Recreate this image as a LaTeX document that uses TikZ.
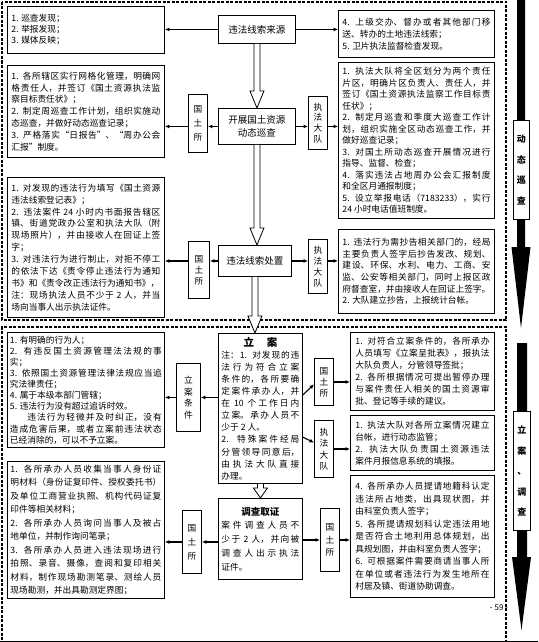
\documentclass[tikz,border=0pt]{standalone}
\usepackage{fontspec}
\setmainfont{Noto Sans CJK SC}
\XeTeXlinebreaklocale "zh"
\XeTeXlinebreakskip=0pt plus 1pt minus 0.3pt
\usetikzlibrary{arrows.meta,calc}
\newcommand\hollowarr[3]{%
 \draw[fill=white,line width=0.8pt] let \p1=(#1), \p2=(#2) in
 (\x1-3pt,\y1) -- (\x1-3pt,\y2+#3) -- (\x1-7pt,\y2+#3) -- (\x1,\y2) -- (\x1+7pt,\y2+#3) -- (\x1+3pt,\y2+#3) -- (\x1+3pt,\y1);}
\begin{document}
\begin{tikzpicture}[x=1pt,y=-1pt,
 box/.style={draw, line width=0.9pt, anchor=north west, align=justify, inner xsep=4pt, inner ysep=1pt},
 tbox/.style={draw, line width=0.9pt, anchor=north west, align=center, inner sep=1pt, font=\fontsize{9.5}{13}\selectfont},
 vbox/.style={draw, line width=0.9pt, anchor=north west, align=center, inner sep=0pt, font=\fontsize{8.7}{12.5}\selectfont},
 conn/.style={line width=1.1pt, -{Latex[length=4.5pt,width=4pt]}},
 frame/.style={line width=1.3pt, dash pattern=on 3pt off 1.5pt},
 lbl/.style={draw, fill=white, line width=0.9pt, anchor=north west, inner sep=0pt, align=center}]
\useasboundingbox (0,0) rectangle (538,642);
\node[font=\fontsize{8}{8}\selectfont] (pg) at (499,608) {- 59 -};
% frames
\draw[frame] (2,2) rectangle (506,320);
\draw[frame] (2,640) -- (2,327) -- (506,327) -- (506,640);
\draw[line width=0.9pt] (0,641) -- (538,641);
% ---- row 1
\node[box, text width=149pt, minimum height=47pt, font=\fontsize{8.7}{11}\selectfont] (a1) at (7,6) {%
1. 巡查发现；\\
2. 举报发现；\\
3. 媒体反映；};
\node[tbox, minimum width=77pt, minimum height=28pt] (src) at (218,15) {违法线索来源};
\node[box, text width=148pt, minimum height=47pt, font=\fontsize{8.7}{12}\selectfont] (b1) at (338,10) {%
4. 上级交办、督办或者其他部门移\linebreak
送、转办的土地违法线索；\\
5. 卫片执法监督检查发现。};
% ---- row 2
\node[box, text width=149pt, minimum height=92pt, font=\fontsize{8.7}{11.8}\selectfont] (a2) at (7,65) {%
1. 各所辖区实行网格化管理，明确网\linebreak
格责任人，并签订《国土资源执法监\linebreak
察目标责任状》；\\
2. 制定周巡查工作计划，组织实施动\linebreak
态巡查，并做好动态巡查记录；\\
3. 严格落实“日报告”、“周办公会\linebreak
汇报”制度。};
\node[vbox, minimum width=19pt, minimum height=58pt, font=\fontsize{8.7}{14}\selectfont] (gt1) at (188,94) {国\\土\\所};
\node[tbox, minimum width=77pt, minimum height=36pt] (pat) at (218,108) {开展国土资源\\动态巡查};
\node[vbox, minimum width=19pt, minimum height=53pt, font=\fontsize{8.7}{10.8}\selectfont] (zf1) at (308,96) {执\\法\\大\\队};
\node[box, text width=148pt, minimum height=156pt, font=\fontsize{8.7}{11.5}\selectfont] (b2) at (338,62) {%
1. 执法大队将全区划分为两个责任\linebreak
片区，明确片区负责人、责任人，并\linebreak
签订《国土资源执法监察工作目标责\linebreak
任状》；\\
2. 制定月巡查和季度大巡查工作计\linebreak
划，组织实施全区动态巡查工作，并\linebreak
做好巡查记录；\\
3. 对国土所动态巡查开展情况进行\linebreak
指导、监督、检查；\\
4. 落实违法占地周办公会汇报制度\linebreak
和全区月通报制度；\\
5.\ \ 设立举报电话（7183233），实行\linebreak
24 小时电话值班制度。};
% ---- row 3
\node[box, text width=149pt, minimum height=140pt, font=\fontsize{8.7}{11.9}\selectfont] (a3) at (7,177) {%
1. 对发现的违法行为填写《国土资源\linebreak
违法线索登记表》；\\
2. 违法案件 24 小时内书面报告辖区\linebreak
镇、街道党政办公室和执法大队（附\linebreak
现场照片），并由接收人在回证上签\linebreak
字；\\
3. 对违法行为进行制止，对拒不停工\linebreak
的依法下达《责令停止违法行为通知\linebreak
书》和《责令改正违法行为通知书》，\\
注：现场执法人员不少于 2 人，并当\linebreak
场向当事人出示执法证件。};
\node[vbox, minimum width=21pt, minimum height=57pt, font=\fontsize{8.7}{11}\selectfont] (gt2) at (188,241) {国\\土\\所};
\node[tbox, minimum width=73pt, minimum height=31pt] (dis) at (218,245) {违法线索处置};
\node[vbox, minimum width=19pt, minimum height=54pt, font=\fontsize{8.7}{11}\selectfont] (zf2) at (308,239) {执\\法\\大\\队};
\node[box, text width=148pt, minimum height=84pt, font=\fontsize{8.7}{11.6}\selectfont] (b3) at (338,229) {%
1. 违法行为需抄告相关部门的，经局\linebreak
主要负责人签字后抄告发改、规划、\linebreak
建设、环保、水利、电力、工商、安\linebreak
监、公安等相关部门，同时上报区政\linebreak
府督查室，并由接收人在回证上签字。\\
2. 大队建立抄告，上报统计台帐。};
% ---- bottom section
\node[box, inner xsep=2.5pt, text width=152pt, minimum height=115pt, font=\fontsize{8.7}{11.1}\selectfont] (c1) at (7,332) {%
1. 有明确的行为人；\\
2. 有违反国土资源管理法法规的事\linebreak
实；\\
3. 依照国土资源管理法律法规应当追\linebreak
究法律责任；\\
4. 属于本级本部门管辖；\\
5. 违法行为没有超过追诉时效。\\
\hspace*{2em}违法行为轻微并及时纠正，没有\linebreak
造成危害后果，或者立案前违法状态\linebreak
已经消除的，可以不予立案。};
\node[vbox, minimum width=24pt, minimum height=68pt, font=\fontsize{8.7}{11.5}\selectfont] (lt) at (176,363) {立\\案\\条\\件};
\node[box, inner xsep=3pt, text width=78pt, minimum height=150pt, font=\fontsize{8.7}{12.1}\selectfont] (la) at (218,333) {%
\makebox[78pt]{\bfseries\fontsize{10.5}{13}\selectfont 立\hspace{1.2em}案}\\
注：1. 对发现的违\linebreak
法行为符合立案\linebreak
条件的，各所要确\linebreak
定案件承办人，并\linebreak
在 10 个工作日内\linebreak
立案。承办人员不\linebreak
少于 2 人。\\
2. 特殊案件经局\linebreak
分管领导同意后，\linebreak
由执法大队直接\linebreak
办理。};
\node[vbox, minimum width=19pt, minimum height=47pt, font=\fontsize{8.7}{11}\selectfont] (gt3) at (314,358) {国\\土\\所};
\node[vbox, minimum width=19pt, minimum height=57pt, font=\fontsize{8.7}{11.5}\selectfont] (zf3) at (314,420) {执\\法\\大\\队};
\node[box, inner xsep=5pt, text width=134pt, minimum height=78pt, font=\fontsize{8.7}{12}\selectfont] (d1) at (350,332) {%
1. 对符合立案条件的，各所承办\linebreak
人员填写《立案呈批表》，报执法\linebreak
大队负责人，分管领导签批；\\
2. 各所根据情况可提出暂停办理\linebreak
与案件责任人相关的国土资源审\linebreak
批、登记等手续的建议。};
\node[box, inner xsep=5pt, text width=134pt, minimum height=55pt, font=\fontsize{8.7}{12}\selectfont] (d2) at (350,415) {%
1. 执法大队对各所立案情况建立\linebreak
台帐，进行动态监管；\\
2.\ \ 执法大队负责国土资源违法\linebreak
案件月报信息系统的填报。};
\node[box, inner xsep=3pt, text width=151pt, minimum height=137pt, font=\fontsize{8.7}{13.5}\selectfont] (c2) at (7,461) {%
1. 各所承办人员收集当事人身份证\linebreak
明材料（身份证复印件、授权委托书）\linebreak
及单位工商营业执照、机构代码证复\linebreak
印件等相关材料；\\
2. 各所承办人员询问当事人及被占\linebreak
地单位，并制作询问笔录；\\
3. 各所承办人员进入违法现场进行\linebreak
拍照、录音、摄像，查阅和复印相关\linebreak
材料，制作现场勘测笔录、测绘人员\linebreak
现场勘测，并出具勘测定界图；};
\node[vbox, minimum width=19pt, minimum height=63pt, font=\fontsize{8.7}{14}\selectfont] (gt4) at (182,510) {国\\土\\所};
\node[box, inner xsep=3pt, text width=78pt, minimum height=81pt, font=\fontsize{8.7}{13.7}\selectfont] (dc) at (218,498) {%
\makebox[78pt]{\bfseries\fontsize{9.5}{12}\selectfont 调查取证}\\
案件调查人员不\linebreak
少于 2 人，并向被\linebreak
调查人出示执法\linebreak
证件。};
\node[vbox, minimum width=19pt, minimum height=63pt, font=\fontsize{8.7}{12.5}\selectfont] (gt5) at (320,508) {国\\土\\所};
\node[box, inner xsep=5pt, text width=134pt, minimum height=122pt, font=\fontsize{8.7}{12.5}\selectfont] (d3) at (350,475) {%
4. 各所承办人员提请地籍科认定\linebreak
违法所占地类，出具现状图，并\linebreak
由科室负责人签字；\\
5. 各所提请规划科认定违法用地\linebreak
是否符合土地利用总体规划，出\linebreak
具规划图，并由科室负责人签字；\\
6. 可根据案件需要商请当事人所\linebreak
在单位或者违法行为发生地所在\linebreak
村居及镇、街道协助调查。};
% ---- connectors
\draw[conn] (src.west) -- (src.west -| a1.east);
\draw[conn] (src.east) -- (src.east -| b1.west);
\draw[conn] (pat.west) -- (pat.west -| gt1.east);
\draw[conn] (pat.west -| gt1.west) -- (pat.west -| a2.east);
\draw[conn] (pat.east) -- (pat.east -| zf1.west);
\draw[conn] (pat.east -| zf1.east) -- (pat.east -| b2.west);
\draw[conn] (dis.west) -- (dis.west -| gt2.east);
\draw[conn] (dis.west -| gt2.west) -- (dis.west -| a3.east);
\draw[conn] (dis.east) -- (dis.east -| zf2.west);
\draw[conn] (dis.east -| zf2.east) -- (dis.east -| b3.west);
\draw[conn] (lt.east -| la.west) -- (lt.east);
\draw[conn] (lt.west) -- (lt.west -| c1.east);
\draw[conn] ($(la.north east)!0.41!(la.south east)$) -- ($(gt3.north west)!0.55!(gt3.south west)$);
\draw[conn] ($(la.north east)!0.69!(la.south east)$) -- ($(zf3.north west)!0.39!(zf3.south west)$);
\draw[conn] (gt3.east) -- (gt3.east -| d1.west);
\draw[conn] (zf3.east) -- (zf3.east -| d2.west);
\draw[conn] (gt4.east -| dc.west) -- (gt4.east);
\draw[conn] (gt4.west) -- (gt4.west -| c2.east);
\draw[conn] (gt5.west -| dc.east) -- (gt5.west);
\draw[conn] (gt5.east) -- (gt5.east -| d3.west);
% hollow arrows
\hollowarr{src.south}{pat.north}{17pt}
\hollowarr{pat.south}{dis.north}{17pt}
\hollowarr{dis.south}{la.north}{17pt}
\hollowarr{la.south}{dc.north}{10pt}
% right side arrows
\fill (517,0) -- (525,0) -- (525,247) -- (530.5,247) -- (521,328) -- (511.5,247) -- (517,247) -- cycle;
\node[lbl, minimum width=16pt, minimum height=99pt, font=\bfseries\fontsize{9}{20.5}\selectfont] (lbl1) at (513,120) {动\\态\\巡\\查};
\fill (517,343) -- (527,343) -- (527,557) -- (531,557) -- (521.5,630) -- (512,557) -- (517,557) -- cycle;
\node[lbl, minimum width=17pt, minimum height=119pt, font=\bfseries\fontsize{9}{20.5}\selectfont] (lbl2) at (513,411) {立\\案\\、\\调\\查};
\end{tikzpicture}
\end{document}
